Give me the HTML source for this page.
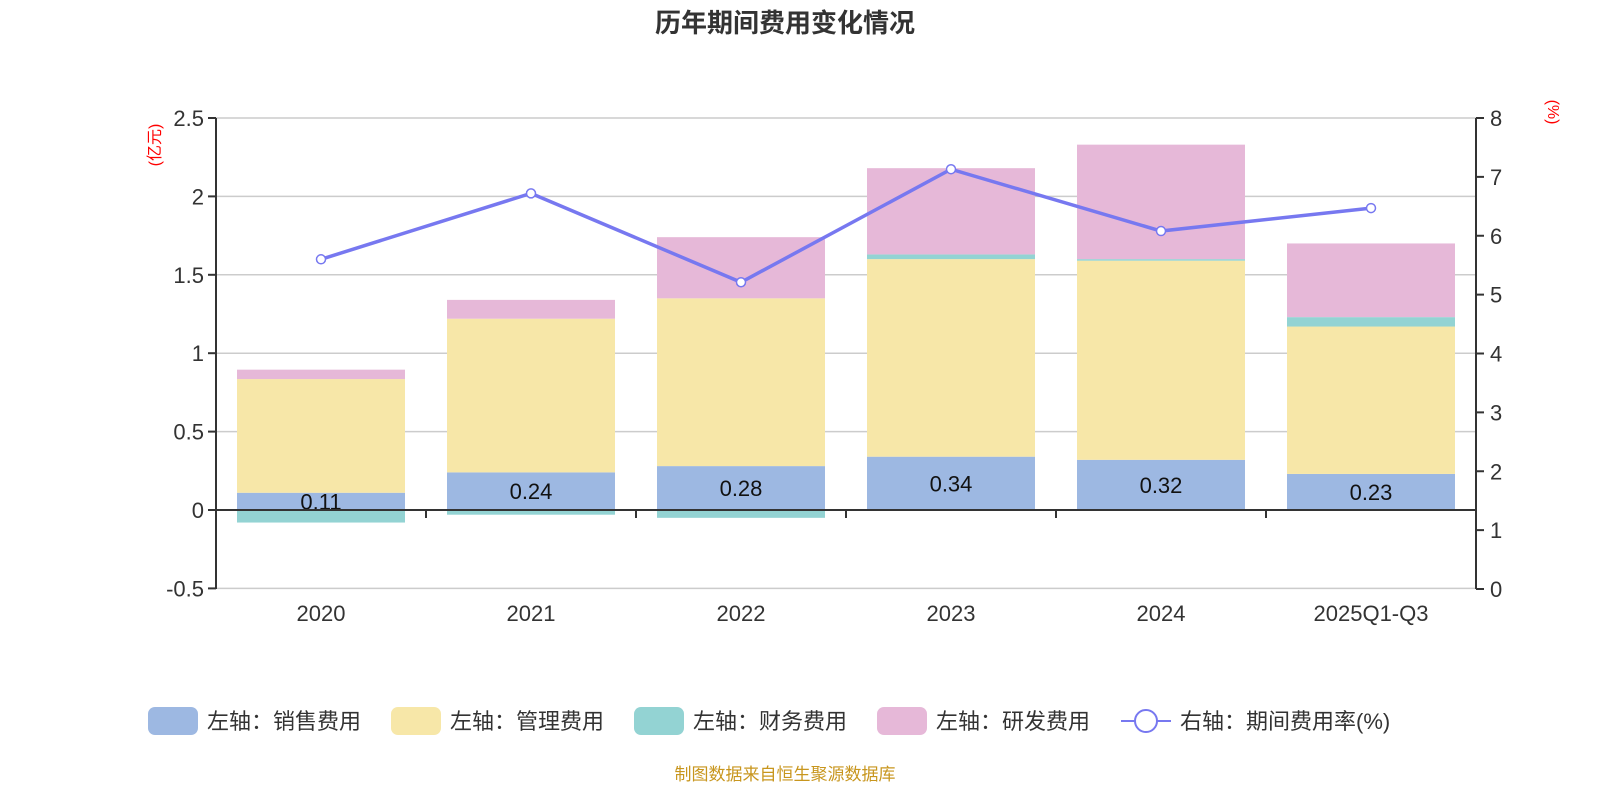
<!DOCTYPE html>
<html><head><meta charset="utf-8"><style>
body{margin:0;background:#fff;font-family:"Liberation Sans","Noto Sans CJK SC",sans-serif}
svg text{font-family:"Liberation Sans","Noto Sans CJK SC",sans-serif}
</style></head><body>
<svg id="c" width="1600" height="800"></svg>
<script>
const categories=["2020","2021","2022","2023","2024","2025Q1-Q3"];
const sales=[0.11,0.24,0.28,0.34,0.32,0.23];
const admin=[0.725,0.98,1.07,1.26,1.27,0.94];
const finance=[-0.08,-0.03,-0.05,0.03,0.01,0.06];
const rnd=[0.06,0.12,0.39,0.55,0.73,0.47];
const rate=[5.60,6.72,5.21,7.13,6.08,6.47];
const leftTicks=[-0.5,0,0.5,1,1.5,2,2.5];
const rightTicks=[0,1,2,3,4,5,6,7,8];
const NS="http://www.w3.org/2000/svg",svg=document.getElementById('c');
const X0=216,X1=1476,bw=(X1-X0)/categories.length,barW=168;
const yL=v=>510-v*156.8, yR=v=>589-v*(471/8);
const xC=i=>X0+bw*(i+0.5);
function mk(t,a,p){const e=document.createElementNS(NS,t);for(const k in a)e.setAttribute(k,a[k]);(p||svg).appendChild(e);return e;}
let e=mk('text',{x:785,y:32,'text-anchor':'middle','font-size':26,'font-weight':'bold',fill:'#333'});e.textContent='历年期间费用变化情况';

leftTicks.forEach(v=>{if(v!==0){let g=mk('line',{x1:X0,x2:X1,y1:yL(v),y2:yL(v),stroke:'#ccc','stroke-width':1.5});}
 mk('line',{x1:X0-8,x2:X0,y1:yL(v),y2:yL(v),stroke:'#333','stroke-width':2});
 let t=mk('text',{x:X0-12,y:yL(v)+8,'text-anchor':'end','font-size':22,fill:'#333'});t.textContent=v;
 });
rightTicks.forEach(v=>{mk('line',{x1:X1,x2:X1+8,y1:yR(v),y2:yR(v),stroke:'#333','stroke-width':2});
 let t=mk('text',{x:X1+14,y:yR(v)+8,'font-size':22,fill:'#333'});t.textContent=v;
 });
mk('line',{x1:X0,x2:X0,y1:118,y2:589,stroke:'#333','stroke-width':2});
mk('line',{x1:X1,x2:X1,y1:118,y2:589,stroke:'#333','stroke-width':2});
let a=mk('text',{transform:'translate(160,145) rotate(-90)','text-anchor':'middle','font-size':16,fill:'red'});a.textContent='(亿元)';

a=mk('text',{transform:'translate(1548,112) rotate(90)','text-anchor':'middle','font-size':16,fill:'red'});a.textContent='(%)';

const cols=['#9db8e2','#f7e7a8','#93d3d3','#e6b8d8'];
categories.forEach((c,i)=>{
 const x=xC(i)-barW/2;let pos=0,neg=0;
 [sales,admin,finance,rnd].forEach((s,k)=>{const v=s[i];let y0,y1;
  if(v>=0){y0=pos;y1=pos+v;pos=y1;}else{y0=neg;y1=neg+v;neg=y1;}
  let r=mk('rect',{x:x,width:barW,y:Math.min(yL(y0),yL(y1)),height:Math.abs(yL(y1)-yL(y0)),fill:cols[k]});
  });
 let t=mk('text',{x:xC(i),y:yL(sales[i]/2)+8,'text-anchor':'middle','font-size':22,fill:'#111'});t.textContent=sales[i].toFixed(2);
 
 t=mk('text',{x:xC(i),y:621,'text-anchor':'middle','font-size':22,fill:'#333'});t.textContent=c;
 
});
mk('line',{x1:X0,x2:X1,y1:510,y2:510,stroke:'#333','stroke-width':2});
for(let i=0;i<=categories.length;i++)mk('line',{x1:X0+bw*i,x2:X0+bw*i,y1:510,y2:518,stroke:'#333','stroke-width':2});
let l=mk('polyline',{points:rate.map((v,i)=>xC(i)+','+yR(v)).join(' '),fill:'none',stroke:'#7778f0','stroke-width':3.5});

rate.forEach((v,i)=>{let p=mk('circle',{cx:xC(i),cy:yR(v),r:4.5,fill:'#fff',stroke:'#7778f0','stroke-width':1.5});
 });
const leg=[['左轴：销售费用',148],['左轴：管理费用',391],['左轴：财务费用',634],['左轴：研发费用',877]];
leg.forEach((g,k)=>{let r=mk('rect',{x:g[1],y:707,width:50,height:28,rx:7,fill:cols[k]});
 
 let t=mk('text',{x:g[1]+59,y:729,'font-size':22,fill:'#333'});t.textContent=g[0];
 });
mk('line',{x1:1121,x2:1171,y1:721,y2:721,stroke:'#7778f0','stroke-width':2});
mk('circle',{cx:1146,cy:721,r:11,fill:'#fff',stroke:'#7778f0','stroke-width':2});
let t=mk('text',{x:1180,y:729,'font-size':22,fill:'#333'});t.textContent='右轴：期间费用率(%)';

t=mk('text',{x:785,y:780,'text-anchor':'middle','font-size':17,fill:'#c8961e'});t.textContent='制图数据来自恒生聚源数据库';

</script>
</body></html>
